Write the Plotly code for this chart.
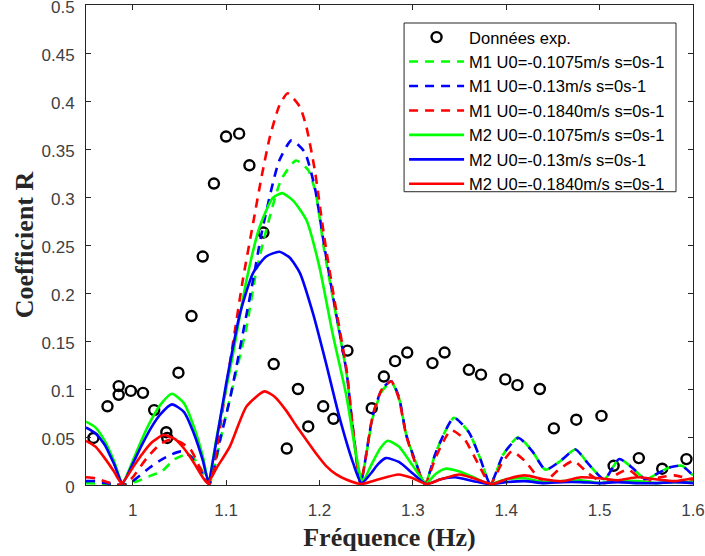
import plotly.graph_objects as go

# ---------------- data ----------------
exp_x = [0.958, 0.973, 0.985, 0.985, 0.998, 1.011, 1.023, 1.036, 1.037, 1.049, 1.063, 1.075,
         1.087, 1.100, 1.114, 1.125, 1.140, 1.151, 1.165, 1.177, 1.188, 1.204, 1.215, 1.230,
         1.256, 1.269, 1.281, 1.294, 1.321, 1.334, 1.360, 1.373, 1.399, 1.412, 1.436, 1.451,
         1.475, 1.502, 1.515, 1.542, 1.567, 1.593]
exp_y = [0.049, 0.082, 0.103, 0.094, 0.098, 0.096, 0.078, 0.055, 0.049, 0.117, 0.176, 0.238,
         0.314, 0.363, 0.366, 0.333, 0.263, 0.126, 0.038, 0.100, 0.061, 0.082, 0.069, 0.140,
         0.080, 0.113, 0.129, 0.138, 0.127, 0.138, 0.120, 0.115, 0.110, 0.104, 0.100, 0.059,
         0.068, 0.072, 0.020, 0.028, 0.017, 0.027]

m1_green_x = [0.95, 0.97, 0.99, 1.005, 1.02, 1.031, 1.045, 1.059, 1.068, 1.076, 1.082,
              1.098, 1.109, 1.122, 1.132, 1.145, 1.159, 1.175, 1.188, 1.196, 1.205, 1.216, 1.229, 1.236, 1.244,
              1.257, 1.267, 1.277, 1.285, 1.293, 1.303, 1.313,
              1.325, 1.344, 1.36, 1.372, 1.383, 1.397, 1.413, 1.428, 1.442, 1.458, 1.474, 1.488, 1.505,
              1.521, 1.535, 1.549, 1.562, 1.574, 1.588, 1.60]
m1_green_y = [0.002, 0.001, 0.0, 0.004, 0.010, 0.014, 0.027, 0.032, 0.025, 0.012, 0.001,
              0.065, 0.110, 0.165, 0.221, 0.273, 0.318, 0.338, 0.328, 0.304, 0.245, 0.186, 0.116, 0.056, 0.002,
              0.070, 0.098, 0.107, 0.091, 0.052, 0.024, 0.001,
              0.035, 0.070, 0.055, 0.028, 0.001, 0.032, 0.050, 0.035, 0.016, 0.025, 0.037, 0.022, 0.006,
              0.027, 0.018, 0.006, 0.012, 0.018, 0.020, 0.010]

m1_blue_x = [0.95, 0.96, 0.97, 0.98, 0.99, 1.0, 1.018, 1.03, 1.042, 1.052, 1.062, 1.072, 1.082,
             1.093, 1.104, 1.118, 1.129, 1.138, 1.150, 1.157, 1.170, 1.184, 1.195, 1.205, 1.216, 1.229, 1.236, 1.244,
             1.257, 1.267, 1.277, 1.285, 1.293, 1.303, 1.313,
             1.325, 1.344, 1.36, 1.372, 1.383, 1.397, 1.413, 1.428, 1.442, 1.458, 1.474, 1.488, 1.505,
             1.521, 1.535, 1.549, 1.562, 1.574, 1.588, 1.60]
m1_blue_y = [0.004, 0.004, 0.002, 0.001, 0.0, 0.004, 0.018, 0.026, 0.032, 0.035, 0.030, 0.016, 0.001,
             0.045, 0.089, 0.158, 0.214, 0.262, 0.314, 0.338, 0.359, 0.347, 0.310, 0.250, 0.188, 0.118, 0.057, 0.002,
             0.072, 0.100, 0.108, 0.092, 0.052, 0.024, 0.001,
             0.035, 0.070, 0.055, 0.028, 0.001, 0.032, 0.049, 0.035, 0.016, 0.025, 0.037, 0.022, 0.006,
             0.027, 0.018, 0.006, 0.012, 0.018, 0.020, 0.010]

m1_red_x = [0.95, 0.96, 0.97, 0.98, 0.99, 1.0, 1.015, 1.03, 1.04, 1.05, 1.062, 1.071, 1.082,
            1.098, 1.109, 1.118, 1.129, 1.138, 1.147, 1.157, 1.166, 1.179, 1.186, 1.195, 1.205, 1.216, 1.229, 1.236, 1.244,
            1.257, 1.267, 1.277, 1.285, 1.293, 1.303, 1.313,
            1.325, 1.341, 1.355, 1.37, 1.383, 1.395, 1.406, 1.42, 1.44, 1.455, 1.472, 1.488, 1.505,
            1.52, 1.531, 1.549, 1.565, 1.58, 1.60]
m1_red_y = [0.008, 0.007, 0.004, 0.001, 0.0, 0.008, 0.028, 0.043, 0.047, 0.045, 0.037, 0.020, 0.001,
            0.089, 0.158, 0.214, 0.273, 0.321, 0.363, 0.395, 0.408, 0.394, 0.373, 0.328, 0.259, 0.193, 0.120, 0.058, 0.002,
            0.072, 0.100, 0.108, 0.090, 0.051, 0.022, 0.001,
            0.030, 0.057, 0.048, 0.022, 0.001, 0.022, 0.035, 0.025, 0.003, 0.015, 0.025, 0.012, 0.002,
            0.012, 0.016, 0.003, 0.008, 0.010, 0.005]

m2_green_x = [0.95, 0.96, 0.97, 0.98, 0.989, 1.0, 1.01, 1.02, 1.03, 1.042, 1.055, 1.065, 1.075, 1.081,
              1.09, 1.10, 1.107, 1.122, 1.136, 1.150, 1.160, 1.172, 1.186, 1.200, 1.214, 1.229, 1.239, 1.246,
              1.255, 1.265, 1.273, 1.285, 1.30, 1.314,
              1.325, 1.335, 1.35, 1.365, 1.382,
              1.40, 1.42, 1.44, 1.46, 1.48, 1.50, 1.52, 1.54, 1.56, 1.58, 1.60]
m2_green_y = [0.066, 0.060, 0.046, 0.025, 0.002, 0.025, 0.048, 0.068, 0.084, 0.095, 0.085, 0.062, 0.030, 0.004,
              0.050, 0.100, 0.134, 0.214, 0.269, 0.299, 0.304, 0.296, 0.276, 0.227, 0.158, 0.092, 0.033, 0.003,
              0.020, 0.038, 0.046, 0.040, 0.020, 0.002,
              0.012, 0.017, 0.014, 0.008, 0.001,
              0.006, 0.007, 0.003, 0.004, 0.005, 0.002, 0.004, 0.004, 0.002, 0.003, 0.003]

m2_blue_x = [0.95, 0.96, 0.97, 0.98, 0.989, 1.0, 1.01, 1.02, 1.03, 1.042, 1.055, 1.065, 1.075, 1.081,
             1.09, 1.10, 1.115, 1.129, 1.143, 1.157, 1.168, 1.179, 1.193, 1.207, 1.221, 1.236, 1.245,
             1.255, 1.263, 1.271, 1.285, 1.30, 1.314,
             1.33, 1.345, 1.365, 1.382,
             1.40, 1.42, 1.44, 1.46, 1.48, 1.50, 1.52, 1.54, 1.56, 1.58, 1.60]
m2_blue_y = [0.060, 0.054, 0.042, 0.022, 0.002, 0.022, 0.042, 0.060, 0.074, 0.084, 0.076, 0.055, 0.026, 0.004,
             0.048, 0.105, 0.179, 0.221, 0.238, 0.243, 0.237, 0.221, 0.179, 0.127, 0.072, 0.023, 0.002,
             0.012, 0.022, 0.028, 0.024, 0.012, 0.001,
             0.006, 0.008, 0.004, 0.001,
             0.003, 0.004, 0.002, 0.003, 0.003, 0.002, 0.003, 0.002, 0.002, 0.003, 0.002]

m2_red_x = [0.95, 0.96, 0.97, 0.98, 0.988, 1.0, 1.01, 1.02, 1.033, 1.045, 1.055, 1.065, 1.075, 1.080,
            1.09, 1.104, 1.122, 1.141, 1.152, 1.164, 1.175, 1.186, 1.197, 1.207, 1.218, 1.228, 1.245,
            1.26, 1.285, 1.30, 1.315, 1.33, 1.35, 1.365, 1.385,
            1.40, 1.42, 1.44, 1.46, 1.48, 1.50, 1.52, 1.54, 1.56, 1.58, 1.60]
m2_red_y = [0.046, 0.040, 0.028, 0.014, 0.002, 0.018, 0.032, 0.044, 0.052, 0.048, 0.038, 0.024, 0.008, 0.002,
            0.018, 0.040, 0.082, 0.0975, 0.092, 0.078, 0.062, 0.047, 0.032, 0.020, 0.011, 0.006, 0.001,
            0.005, 0.011, 0.007, 0.001, 0.006, 0.011, 0.007, 0.001,
            0.006, 0.010, 0.006, 0.004, 0.008, 0.007, 0.005, 0.008, 0.006, 0.004, 0.007]

x_tickvals = [1, 1.1, 1.2, 1.3, 1.4, 1.5, 1.6]
x_ticktext = ["1", "1.1", "1.2", "1.3", "1.4", "1.5", "1.6"]
y_tickvals = [0, 0.05, 0.1, 0.15, 0.2, 0.25, 0.3, 0.35, 0.4, 0.45, 0.5]
y_ticktext = ["0", "0.05", "0.1", "0.15", "0.2", "0.25", "0.3", "0.35", "0.4", "0.45", "0.5"]

GREEN = "#00ff00"
BLUE = "#0000ff"
RED = "#ff0000"
DASH = "9px,7px"
LW = 2.6

fig = go.Figure()
fig.add_trace(go.Scatter(x=exp_x, y=exp_y, mode="markers", name="Données exp.",
                         marker=dict(symbol="circle-open", size=10, color="black",
                                     line=dict(width=2.4, color="black"))))
series = [
    ("M1 U0=-0.1075m/s s=0s-1", m1_green_x, m1_green_y, GREEN, DASH),
    ("M1 U0=-0.13m/s s=0s-1", m1_blue_x, m1_blue_y, BLUE, DASH),
    ("M1 U0=-0.1840m/s s=0s-1", m1_red_x, m1_red_y, RED, DASH),
    ("M2 U0=-0.1075m/s s=0s-1", m2_green_x, m2_green_y, GREEN, "solid"),
    ("M2 U0=-0.13m/s s=0s-1", m2_blue_x, m2_blue_y, BLUE, "solid"),
    ("M2 U0=-0.1840m/s s=0s-1", m2_red_x, m2_red_y, RED, "solid"),
]
for name, xs, ys, col, dash in series:
    fig.add_trace(go.Scatter(x=xs, y=ys, mode="lines", name=name,
                             line=dict(color=col, width=LW, dash=dash, shape="spline", smoothing=0.6)))

axis_common = dict(showgrid=False, zeroline=False, showline=True, linecolor="#262626", linewidth=1,
                   mirror="ticks", ticks="inside", ticklen=5, tickwidth=1, tickcolor="#262626",
                   automargin=False, ticklabeloverflow="allow",
                   tickfont=dict(family="Liberation Sans, Arial, sans-serif", size=17, color="#404040"))

fig.update_xaxes(range=[0.95, 1.6], tickvals=x_tickvals, ticktext=x_ticktext,
                 title=dict(text="<b>Fréquence (Hz)</b>", standoff=8,
                            font=dict(family="Liberation Serif, Times New Roman, serif", size=26, color="#262626")),
                 ticklabelstandoff=10, **axis_common)
fig.update_yaxes(range=[0, 0.5], tickvals=y_tickvals, ticktext=y_ticktext,
                 title=dict(text="<b>Coefficient R</b>", standoff=0,
                            font=dict(family="Liberation Serif, Times New Roman, serif", size=26, color="#262626")),
                 ticklabelstandoff=7, ticklabelshift=2, **axis_common)

# legend frame (paper coordinates)
fig.add_shape(type="rect", xref="paper", yref="paper", x0=0.524, x1=0.972, y0=0.611, y1=0.9625,
              line=dict(color="#262626", width=1), fillcolor="white", layer="above")

fig.update_layout(
    width=705, height=556,
    margin=dict(l=86, r=12, t=5, b=71),
    plot_bgcolor="white", paper_bgcolor="white",
    showlegend=True,
    legend=dict(x=0.524, y=0.969, xanchor="left", yanchor="top",
                bgcolor="rgba(0,0,0,0)", borderwidth=0,
                font=dict(family="Liberation Sans, Arial, sans-serif", size=16.5, color="#000000"),
                itemwidth=55, tracegroupgap=0),
)

fig.write_html("out.html", config={"displayModeBar": False},
               post_script="document.body.style.margin='0';")
